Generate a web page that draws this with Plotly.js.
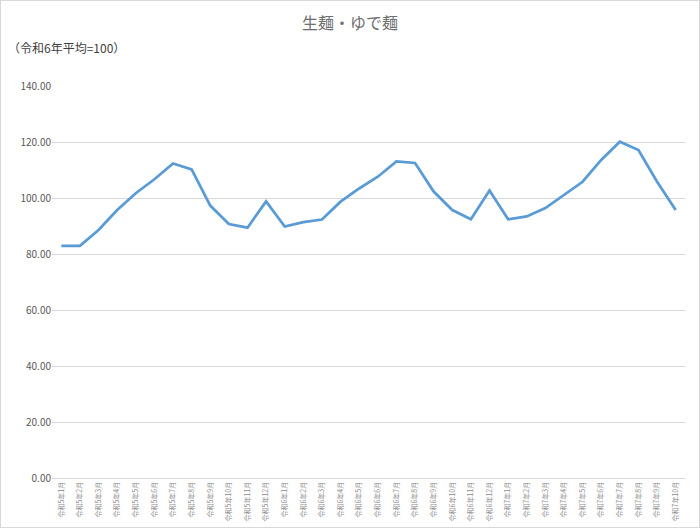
<!DOCTYPE html>
<html><head><meta charset="utf-8">
<script src="https://cdn.plot.ly/plotly-3.0.1.min.js"></script>
<style>html,body{margin:0;padding:0;background:#fff}#chart{width:700px;height:528px;box-sizing:border-box;border:1px solid #d9d9d9}</style>
</head><body><div id="chart"></div>
<script>
const months = ["令和5年1月","令和5年2月","令和5年3月","令和5年4月","令和5年5月","令和5年6月","令和5年7月","令和5年8月","令和5年9月","令和5年10月","令和5年11月","令和5年12月",
"令和6年1月","令和6年2月","令和6年3月","令和6年4月","令和6年5月","令和6年6月","令和6年7月","令和6年8月","令和6年9月","令和6年10月","令和6年11月","令和6年12月",
"令和7年1月","令和7年2月","令和7年3月","令和7年4月","令和7年5月","令和7年6月","令和7年7月","令和7年8月","令和7年9月","令和7年10月"];
const values = [82.9,82.9,88.6,95.7,101.7,106.7,112.3,110.2,97.3,90.7,89.4,98.8,
89.8,91.4,92.3,98.7,103.4,107.6,113.1,112.5,102.3,95.7,92.4,102.7,
92.4,93.4,96.4,101.1,105.8,113.6,120.1,117.1,105.8,95.7];
const yTicks = [0,20,40,60,80,100,120,140];

const font = '"Noto Sans CJK JP", "Noto Sans", sans-serif';
Plotly.newPlot('chart', [{
  x: months, y: values, type: 'scatter', mode: 'lines',
  line: {color: '#5b9bd5', width: 2.75}, hoverinfo: 'x+y'
}], {
  width: 698, height: 526,
  margin: {l: 51, r: 14, t: 85, b: 49},
  paper_bgcolor: '#fff', plot_bgcolor: '#fff',
  font: {family: font, color: '#595959'},
  title: {text: '生麺・ゆで麺', font: {size: 16, color: '#6e6e6e', family: font}, x: 0.5, xanchor: 'center', y: 0.957, yanchor: 'middle'},
  annotations: [{text: '（令和6年平均=100）', xref: 'paper', yref: 'paper', x: -0.072, xanchor: 'left', y: 1.097, yanchor: 'middle', showarrow: false, font: {size: 12, color: '#404040', family: font}}],
  xaxis: {type: 'category', range: [-0.5, 33.5], tickangle: -90, tickfont: {size: 7, color: '#8c8c8c', family: font}, showgrid: false, showline: true, linecolor: '#d9d9d9', ticks: '', fixedrange: true},
  yaxis: {range: [0, 140], tickvals: yTicks, ticktext: yTicks.map(v => v.toFixed(2)), tickfont: {size: 10, color: '#595959', family: font}, showgrid: true, gridcolor: '#d9d9d9', gridwidth: 1, zeroline: false, showline: false, ticks: '', ticklen: 0, fixedrange: true},
  showlegend: false
}, {displayModeBar: false, staticPlot: true});
</script></body></html>
